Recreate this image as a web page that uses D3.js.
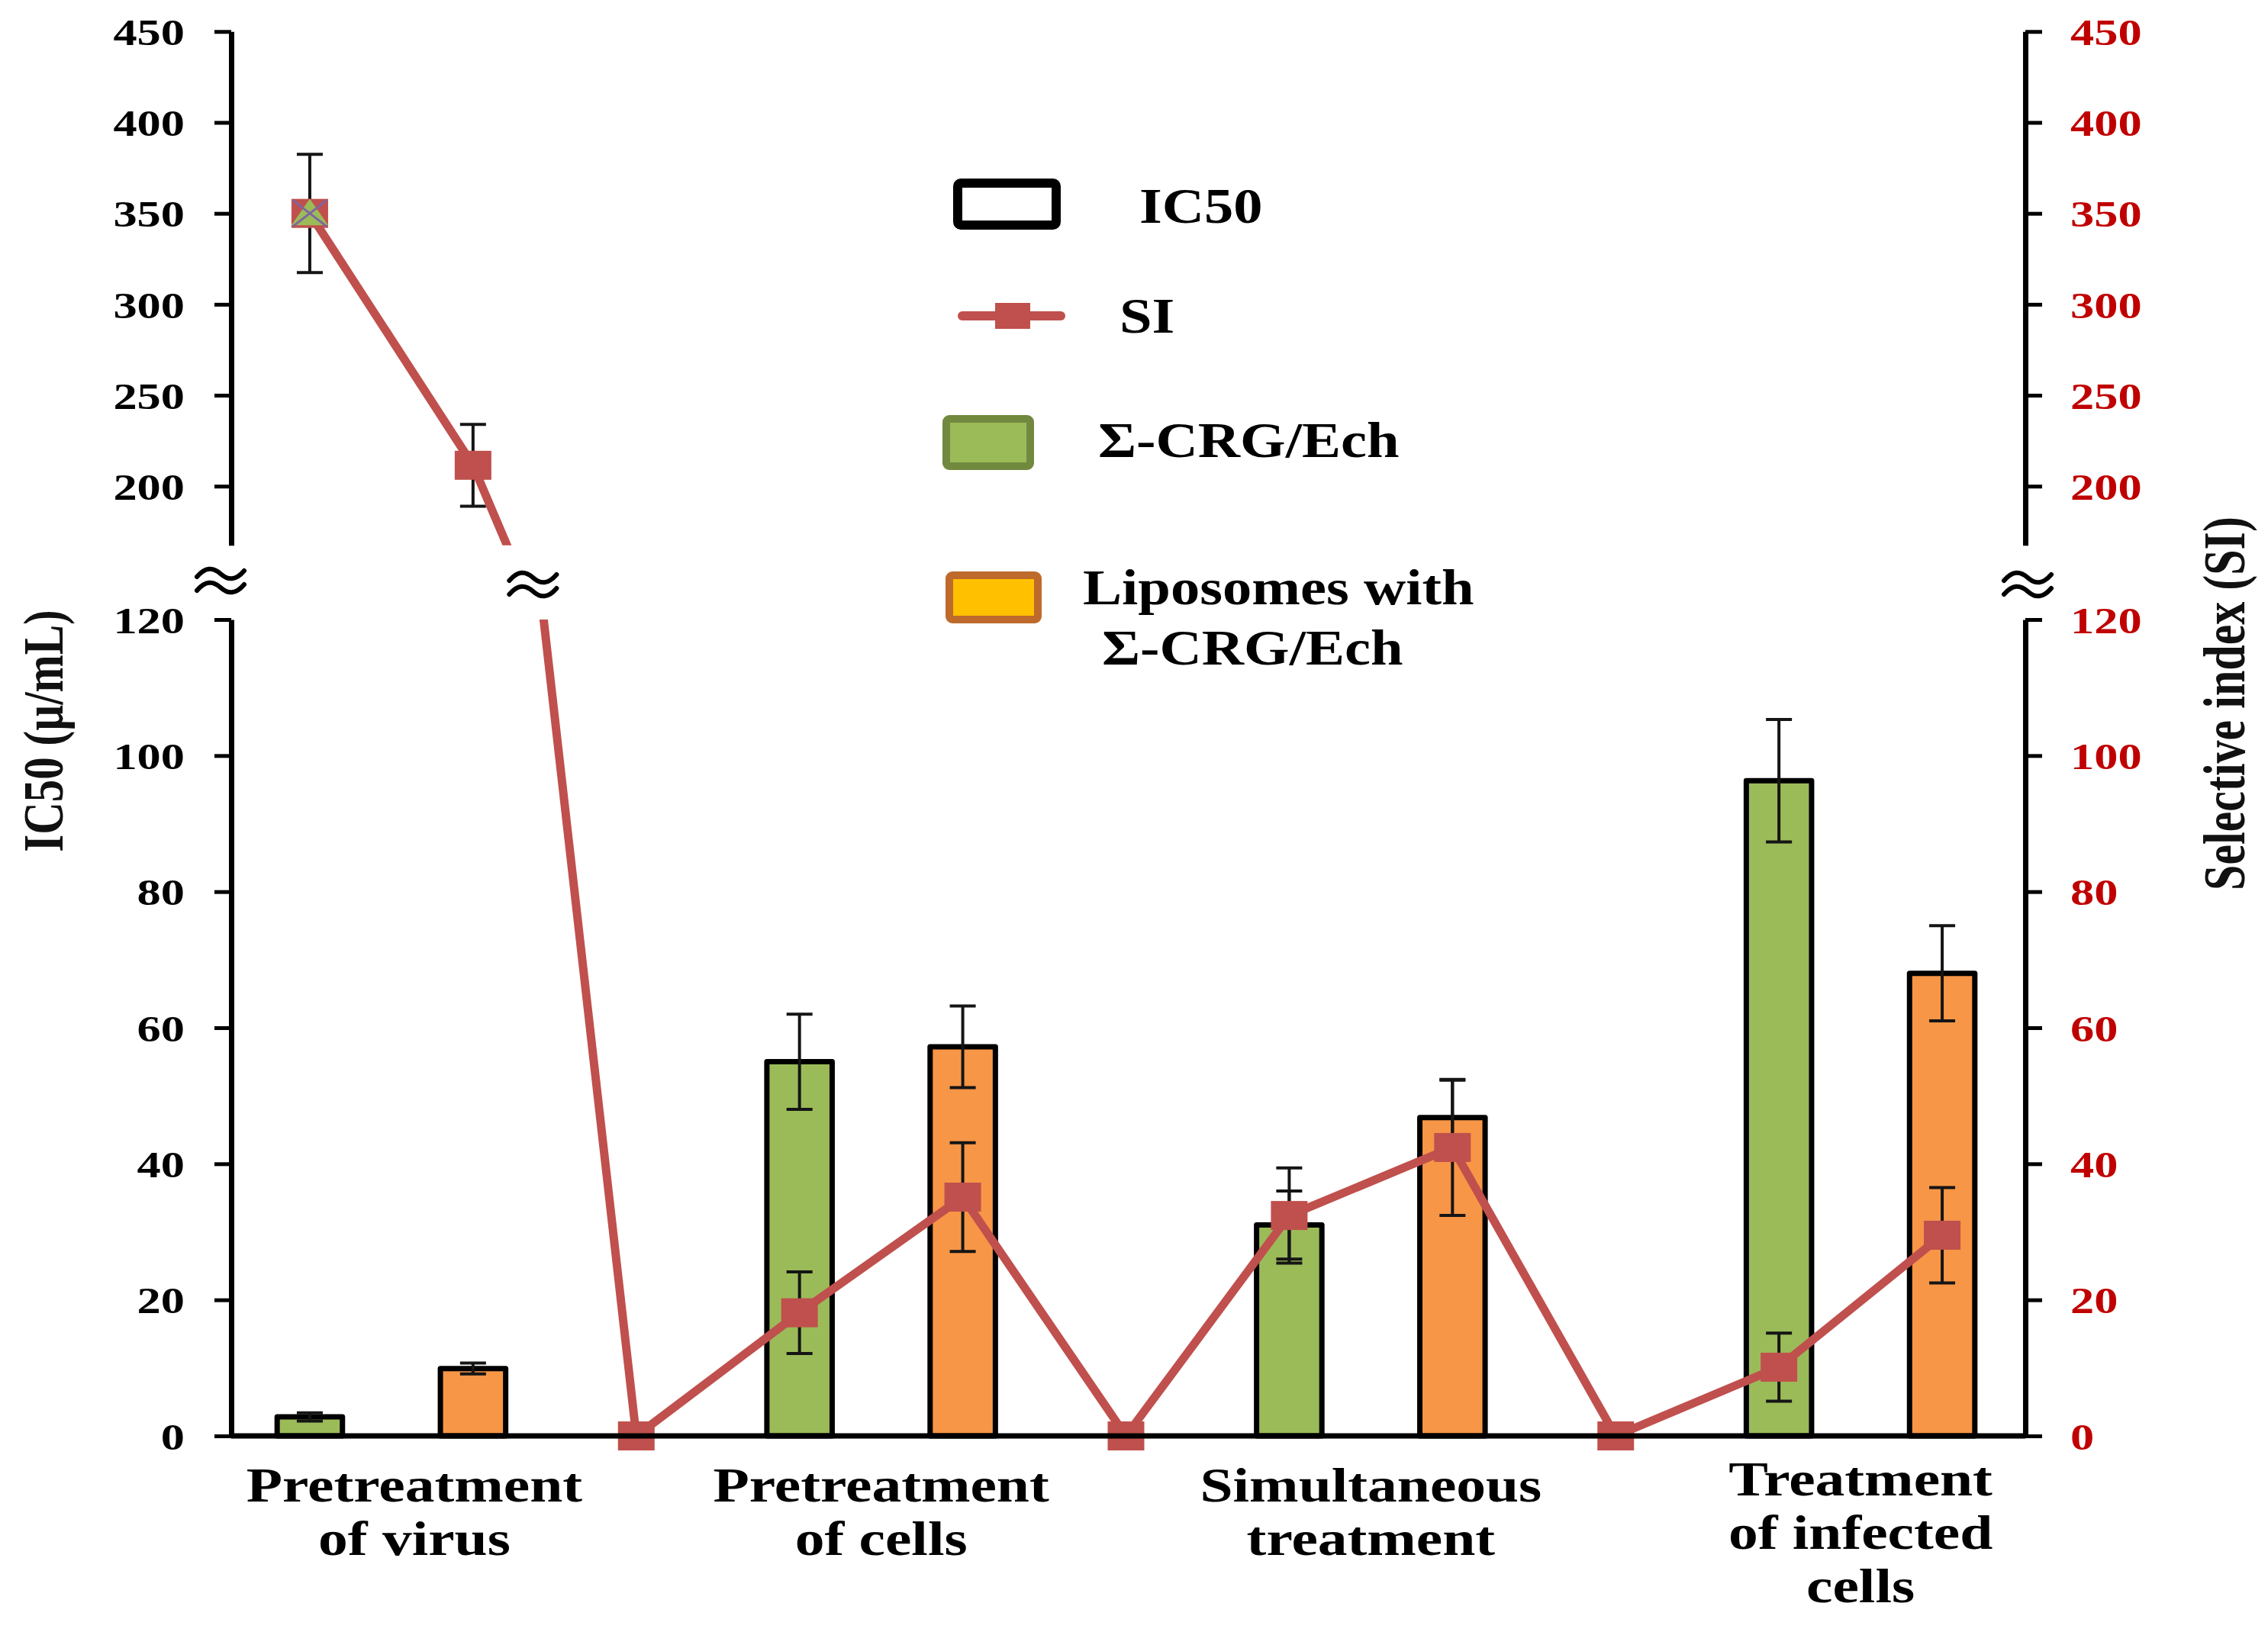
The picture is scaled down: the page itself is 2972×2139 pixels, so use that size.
<!DOCTYPE html>
<html><head><meta charset="utf-8">
<script src="https://cdn.jsdelivr.net/npm/d3@7"></script>
<style>body{margin:0;background:#fff}</style>
</head><body>
<svg id="chart" width="2972" height="2139"></svg>
<script>
// ---------------- DATA ----------------
const categories = [["Pretreatment","of virus"],["Pretreatment","of cells"],["Simultaneous","treatment"],["Treatment","of infected","cells"]];
const crgIC50   = [2.8, 55.0, 31.0, 96.3];   // Σ-CRG/Ech IC50
const crgErr    = [0.6, 7.0, 5.0, 9.0];
const lipoIC50  = [9.9, 57.2, 46.8, 68.0];   // Liposomes with Σ-CRG/Ech IC50
const lipoErr   = [0.8, 6.0, 5.5, 7.0];
const siValues  = [350, 211.5, 0, 18.1, 35.1, 0, 32.4, 42.4, 0, 10.1, 29.5]; // selective index, one per slot
const siErr     = [32.5, 22.5, 0, 6, 8, 0, 7, 10, 0, 5, 7];
const topTicks    = [200, 250, 300, 350, 400, 450];
const bottomTicks = [0, 20, 40, 60, 80, 100, 120];
const legendLabels = [["IC50"], ["SI"], ["Σ-CRG/Ech"], ["Liposomes with", "Σ-CRG/Ech"]];
const leftTitle  = "IC50 (µ/mL)";
const rightTitle = "Selective index (SI)";

// ---------------- LAYOUT / STYLE ----------------
const W = 2972, H = 2139;
const axisL = 303, axisR = 2654;
const FONT = "'Liberation Serif','Times New Roman',serif";
const GREEN = "#9BBB59", ORANGE = "#F79646", RED = "#C0504D", TICKRED = "#C00000";

const svg = d3.select("#chart");
svg.append("rect").attr("width", W).attr("height", H).attr("fill", "#fff");

const nSlots = siValues.length;
const x = d3.scaleBand().domain(d3.range(nSlots)).range([299, 2652]).padding(0);
const cx = i => x(i) + x.bandwidth() / 2;
const barW = x.bandwidth() * 0.40;

const yBot = d3.scaleLinear().domain([0, 120]).range([1882, 812]);
const yTop = d3.scaleLinear().domain([167.5, 450]).range([714.7, 41.3]);

// clip paths for the two panels
const defs = svg.append("defs");
defs.append("clipPath").attr("id", "clipTop").append("rect")
  .attr("x", 0).attr("y", 0).attr("width", W).attr("height", yTop.range()[0]);
defs.append("clipPath").attr("id", "clipBot").append("rect")
  .attr("x", 0).attr("y", yBot.range()[1]).attr("width", W).attr("height", H - yBot.range()[1]);

function sText(g, tx, ty, txt, size, sx, anchor, fill) {
  return g.append("text")
    .attr("transform", `translate(${tx},${ty}) scale(${sx},1)`)
    .attr("text-anchor", anchor)
    .attr("font-family", FONT).attr("font-weight", "bold")
    .attr("font-size", size).attr("fill", fill || "#000")
    .text(txt);
}

// ---------------- BARS ----------------
const barData = [];
categories.forEach((c, gi) => {
  barData.push({slot: gi * 3,     v: crgIC50[gi],  e: crgErr[gi],  fill: GREEN});
  barData.push({slot: gi * 3 + 1, v: lipoIC50[gi], e: lipoErr[gi], fill: ORANGE});
});
const gBars = svg.append("g");
gBars.selectAll("rect").data(barData).join("rect")
  .attr("x", d => cx(d.slot) - barW / 2)
  .attr("y", d => yBot(d.v))
  .attr("width", barW)
  .attr("height", d => yBot(0) - yBot(d.v))
  .attr("fill", d => d.fill)
  .attr("stroke", "#000").attr("stroke-width", 7).attr("stroke-linejoin", "round");

function errBars(g, data, xf, yf) {
  const cap = 17;
  const eg = g.selectAll(null).data(data).join("g").attr("stroke", "#151515").attr("stroke-width", 4);
  eg.append("line").attr("x1", xf).attr("x2", xf).attr("y1", d => yf(d.v + d.e)).attr("y2", d => yf(d.v - d.e));
  eg.append("line").attr("x1", d => xf(d) - cap).attr("x2", d => xf(d) + cap).attr("y1", d => yf(d.v + d.e)).attr("y2", d => yf(d.v + d.e));
  eg.append("line").attr("x1", d => xf(d) - cap).attr("x2", d => xf(d) + cap).attr("y1", d => yf(d.v - d.e)).attr("y2", d => yf(d.v - d.e));
}
errBars(svg.append("g"), barData, d => cx(d.slot), yBot);

// ---------------- SI LINE (drawn in both panels, clipped) ----------------
const siData = siValues.map((v, i) => ({slot: i, v: v, e: siErr[i]}));
[[yTop, "clipTop"], [yBot, "clipBot"]].forEach(([ys, clip]) => {
  const g = svg.append("g").attr("clip-path", `url(#${clip})`);
  errBars(g, siData.filter(d => d.e > 0), d => cx(d.slot), ys);
  g.append("path").datum(siData)
    .attr("d", d3.line().x(d => cx(d.slot)).y(d => ys(d.v)))
    .attr("fill", "none").attr("stroke", RED).attr("stroke-width", 11).attr("stroke-linejoin", "round");
  g.selectAll("rect.m").data(siData).join("rect").attr("class", "m")
    .attr("x", d => cx(d.slot) - 24).attr("y", d => ys(d.v) - 19)
    .attr("width", 48).attr("height", 38).attr("fill", RED);
});
// overlapping hidden-series markers at first point (as in source)
{
  const px = cx(0), py = yTop(siValues[0]);
  svg.append("path").attr("d", d3.symbol(d3.symbolTriangle, 700)())
    .attr("transform", `translate(${px},${py + 4}) scale(1.2,1)`).attr("fill", GREEN);
  svg.append("path").attr("d", `M${px-22},${py-17}L${px+22},${py+17}M${px-22},${py+17}L${px+22},${py-17}`)
    .attr("stroke", "#8064A2").attr("stroke-width", 3);
}

// ---------------- AXES ----------------
function styleAxis(g, left) {
  g.attr("font-family", FONT).attr("font-weight", "bold");
  g.select(".domain").attr("stroke", "#000").attr("stroke-width", 7);
  g.selectAll(".tick line").attr("stroke", "#000").attr("stroke-width", 5);
  g.selectAll(".tick text")
    .attr("x", 0).attr("dy", "0.36em")
    .attr("font-size", 48)
    .attr("fill", left ? "#000" : TICKRED)
    .attr("text-anchor", left ? "end" : "start")
    .attr("transform", left ? "translate(-61,0) scale(1.3,1)" : "translate(59,0) scale(1.3,1)");
}
[[yBot, bottomTicks], [yTop, topTicks]].forEach(([ys, tv]) => {
  const gl = svg.append("g").attr("transform", `translate(${axisL},0)`)
    .call(d3.axisLeft(ys).tickValues(tv).tickSize(22).tickSizeOuter(0).tickFormat(d3.format("d")));
  styleAxis(gl, true);
  const gr = svg.append("g").attr("transform", `translate(${axisR},0)`)
    .call(d3.axisRight(ys).tickValues(tv).tickSize(22).tickSizeOuter(0).tickFormat(d3.format("d")));
  styleAxis(gr, false);
});
// x axis baseline
svg.append("line").attr("x1", axisL).attr("x2", axisR).attr("y1", yBot(0)).attr("y2", yBot(0))
  .attr("stroke", "#000").attr("stroke-width", 7);

// break marks
function breakMark(bx, by) {
  const g = svg.append("g").attr("transform", `translate(${bx},${by})`)
    .attr("fill", "none").attr("stroke", "#000").attr("stroke-width", 6).attr("stroke-linecap", "round");
  [-9, 9].forEach(dy => g.append("path")
    .attr("d", `M-31,${dy+4} C-20,${dy-9} -10,${dy-9} 0,${dy} S20,${dy+9} 31,${dy-4}`));
}
const gapMid = (yBot.domain()[1] + yTop.domain()[0]) / 2;
const tGap = (siValues[1] - gapMid) / (siValues[1] - siValues[2]);
breakMark(axisL - 14, 761);
breakMark(cx(1) + tGap * (cx(2) - cx(1)) + 10, 766);
breakMark(axisR + 3, 766);

// ---------------- CATEGORY LABELS ----------------
categories.forEach((lines, gi) => {
  const mx = (cx(gi * 3) + cx(gi * 3 + 1)) / 2 + (gi === 0 ? 30 : 0);
  const base = lines.length > 2 ? 1960 : 1968;
  lines.forEach((t, li) => sText(svg, mx, base + li * 70, t, 63, 1.23, "middle"));
});

// ---------------- AXIS TITLES ----------------
svg.append("text").attr("transform", `translate(57,958) rotate(-90) scale(1,1.25)`)
  .attr("text-anchor", "middle").attr("dominant-baseline", "central")
  .attr("font-family", FONT).attr("font-weight", "bold").attr("font-size", 59).attr("fill", "#111")
  .text(leftTitle);
svg.append("text").attr("transform", `translate(2915,922) rotate(-90) scale(1,1.3)`)
  .attr("text-anchor", "middle").attr("dominant-baseline", "central")
  .attr("font-family", FONT).attr("font-weight", "bold").attr("font-size", 60).attr("fill", "#111")
  .text(rightTitle);

// ---------------- LEGEND ----------------
const lg = svg.append("g");
// IC50 outline box
lg.append("rect").attr("x", 1255).attr("y", 240).attr("width", 129).attr("height", 55).attr("rx", 4)
  .attr("fill", "#fff").attr("stroke", "#000").attr("stroke-width", 12);
// SI line + marker
lg.append("line").attr("x1", 1261).attr("x2", 1390).attr("y1", 414).attr("y2", 414)
  .attr("stroke", RED).attr("stroke-width", 12).attr("stroke-linecap", "round");
lg.append("rect").attr("x", 1304).attr("y", 397).attr("width", 46).attr("height", 34).attr("fill", RED);
// Σ-CRG/Ech box
lg.append("rect").attr("x", 1240).attr("y", 549).attr("width", 110).attr("height", 62).attr("rx", 4)
  .attr("fill", GREEN).attr("stroke", "#71893F").attr("stroke-width", 10);
// Liposomes box
lg.append("rect").attr("x", 1244).attr("y", 754).attr("width", 116).attr("height", 58).attr("rx", 4)
  .attr("fill", "#FFC000").attr("stroke", "#BE6A2C").attr("stroke-width", 10);

const legendTextPos = [[[1493, 292]], [[1467, 436]], [[1439, 599]], [[1419, 792], [1444, 871]]];
legendLabels.forEach((lines, i) => lines.forEach((t, li) => {
  const [tx, ty] = legendTextPos[i][li];
  sText(lg, tx, ty, t, 66, 1.16, "start");
}));
</script>
</body></html>
